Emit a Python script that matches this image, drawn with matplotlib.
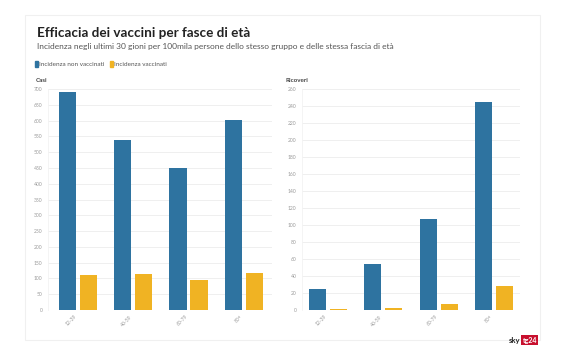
import matplotlib.pyplot as plt
from matplotlib.patches import Rectangle
import numpy as np

plt.rcParams['font.family'] = ['Lato', 'DejaVu Sans']

# data
fasce = ["12-39", "40-59", "60-79", "80+"]
casi_non_vacc = [691, 540, 449, 603]
casi_vacc = [112, 114, 95, 117]
ricoveri_non_vacc = [25, 54, 107, 245]
ricoveri_vacc = [1, 2, 7, 28]
casi_ticks = list(range(0, 701, 50))
ricoveri_ticks = list(range(0, 261, 20))

BLUE = '#2e73a0'
YELLOW = '#f0b323'
GRID = '#ececec'
TICK = '#9a9a9a'

W, H = 565, 354
fig = plt.figure(figsize=(W / 100, H / 100), dpi=100)
fig.patch.set_facecolor('white')


def fx(px):
    return px / W


def fy(py):
    return 1 - py / H


# card border
fig.add_artist(Rectangle((fx(25), fy(340)), 515 / W, 325 / H,
                         transform=fig.transFigure, facecolor='white',
                         edgecolor='#f0f0f0', linewidth=0.8, zorder=0))

fig.text(fx(37), fy(33), "Efficacia dei vaccini per fasce di età",
         fontsize=9.7, fontweight='bold', color='#222222', va='center')
fig.text(fx(37), fy(47),
         "Incidenza negli ultimi 30 gioni per 100mila persone dello stesso gruppo e delle stessa fascia di età",
         fontsize=6.0, color='#555555', va='center')

# legend
fig.add_artist(Rectangle((fx(35), fy(66.5)), 3 / W, 5 / H,
                         transform=fig.transFigure, color=BLUE))
fig.text(fx(39), fy(64.3), "Incidenza non vaccinati", fontsize=4.6,
         color='#555555', va='center')
fig.add_artist(Rectangle((fx(110), fy(66.5)), 3 / W, 5 / H,
                         transform=fig.transFigure, color=YELLOW))
fig.text(fx(114), fy(64.3), "Incidenza vaccinati", fontsize=4.6,
         color='#555555', va='center')


def pannello(x0, x1, xlim, titolo, a, b, ticks, title_x):
    ax = fig.add_axes([fx(x0), fy(310), (x1 - x0) / W, 221 / H])
    x = np.arange(len(fasce))
    w = 0.31
    ax.bar(x - w / 2 - 0.035, a, w, color=BLUE, zorder=3)
    ax.bar(x + w / 2 + 0.035, b, w, color=YELLOW, zorder=3)
    ax.set_ylim(0, ticks[-1])
    ax.set_yticks(ticks)
    ax.set_xlim(*xlim)
    ax.set_xticks(x)
    ax.set_xticklabels(fasce, rotation=45, ha='right', fontsize=3.6, color=TICK)
    ax.tick_params(axis='y', labelsize=3.6, colors=TICK, length=0, pad=4)
    ax.tick_params(axis='x', length=0, pad=3)
    ax.grid(axis='y', color=GRID, linewidth=0.6, zorder=0)
    for s in ['top', 'right', 'bottom']:
        ax.spines[s].set_visible(False)
    ax.spines['left'].set_color('#f3f3f3')
    ax.spines['left'].set_linewidth(0.6)
    fig.text(fx(title_x), fy(80), titolo, fontsize=4.5,
             fontweight='bold', color='#444444', va='center')
    return ax


pannello(48, 272, (-0.54, 3.51), "Casi",
         casi_non_vacc, casi_vacc, casi_ticks, 36)
pannello(302, 520, (-0.47, 3.47), "Ricoveri",
         ricoveri_non_vacc, ricoveri_vacc, ricoveri_ticks, 286)

# logo
fig.text(fx(520), fy(340), "sky", fontsize=5.5, fontweight='bold',
         color='#222222', va='center', ha='right')
fig.text(fx(522.5), fy(340), "tg24", fontsize=5, fontweight='bold',
         color='white', va='center', ha='left',
         bbox=dict(boxstyle='square,pad=0.15', facecolor='#c8102e', edgecolor='none'))

plt.savefig("out.png", dpi=100)
